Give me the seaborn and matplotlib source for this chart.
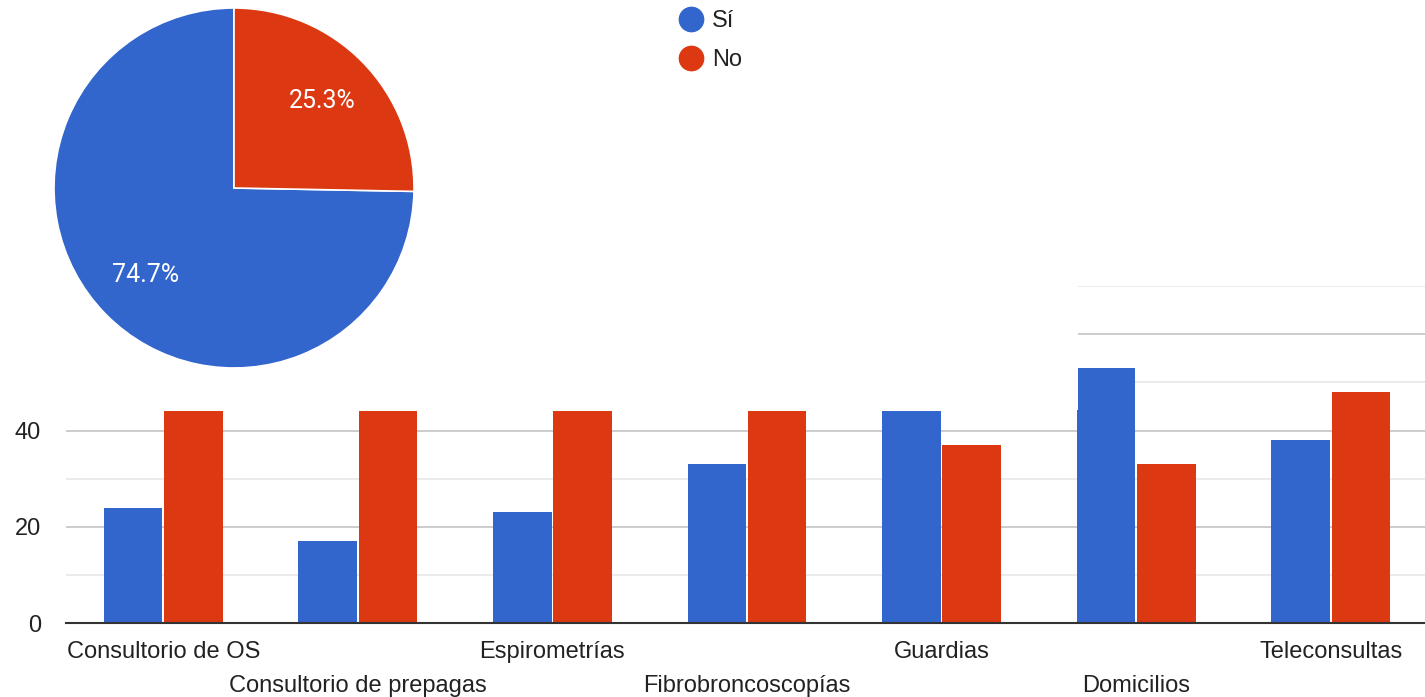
import matplotlib
matplotlib.use("Agg")
import matplotlib.pyplot as plt
import seaborn as sns
import pandas as pd
from matplotlib.lines import Line2D
from matplotlib.ticker import MultipleLocator, FixedLocator

# ---- data ----
categories = ["Consultorio de OS", "Consultorio de prepagas", "Espirometrías",
              "Fibrobroncoscopías", "Guardias", "Domicilios", "Teleconsultas"]
si_values = [24, 17, 23, 33, 44, 53, 38]
no_values = [44, 44, 44, 44, 37, 33, 48]
series_names = ["Sí", "No"]
pie_values = [74.7, 25.3]
y_ticks = [0, 20, 40, 60]
colors = ["#3366cc", "#dc3912"]

sns.set_style("white")
plt.rcParams["font.family"] = ["Liberation Sans", "DejaVu Sans"]

W, H = 1425, 697
fig = plt.figure(figsize=(W / 100, H / 100), dpi=100)


def px_rect(x0, y0, x1, y1):
    return [x0 / W, 1 - y1 / H, (x1 - x0) / W, (y1 - y0) / H]


# ---- bar chart ----
ax = fig.add_axes(px_rect(66, 286, 1428, 623.3))
df = pd.DataFrame({
    "Categoría": categories * 2,
    "Valor": si_values + no_values,
    "Respuesta": [series_names[0]] * len(categories) + [series_names[1]] * len(categories),
})
sns.barplot(data=df, x="Categoría", y="Valor", hue="Respuesta", hue_order=series_names,
            palette=colors, saturation=1, width=0.62, gap=0.03, linewidth=0,
            legend=False, ax=ax)
ax.set_xlim(-0.5, 6.5)
ax.set_ylim(0, 70)
ax.yaxis.set_major_locator(FixedLocator(y_ticks))
ax.yaxis.set_minor_locator(MultipleLocator(10))
ax.set_yticklabels([str(t) for t in y_ticks])
ax.grid(False)
ax.yaxis.grid(True, which="major", color="#cccccc", lw=1.4)
ax.yaxis.grid(True, which="minor", color="#ebebeb", lw=1.4)
ax.set_axisbelow(True)
for s in ["left", "right", "top"]:
    ax.spines[s].set_visible(False)
ax.spines["bottom"].set_color("#333333")
ax.spines["bottom"].set_linewidth(1.5)
ax.spines["bottom"].set_zorder(5)
ax.set_xlabel("")
ax.set_ylabel("")
ax.tick_params(axis="both", which="both", length=0, labelsize=17, labelcolor="#222222")
ax.tick_params(axis="y", pad=18)
for i, t in enumerate(ax.xaxis.get_major_ticks()):
    t.set_pad(13 if i % 2 == 0 else 37)

# ---- pie overlay ----
ax2 = fig.add_axes(px_rect(0, 0, 1078, 410))
ax2.set_zorder(2)
ax2.set_facecolor("white")
ax2.pie(pie_values, colors=colors, startangle=90, counterclock=True,
        center=(234, 222), radius=180, frame=True,
        autopct="%.1f%%", pctdistance=0.69,
        wedgeprops=dict(edgecolor="white", linewidth=1.2),
        textprops=dict(color="white", fontsize=18, family=["Roboto", "DejaVu Sans"]))
ax2.set_xlim(0, 1078)
ax2.set_ylim(0, 410)
ax2.set_aspect("auto")
ax2.set_xticks([])
ax2.set_yticks([])
for s in ax2.spines.values():
    s.set_visible(False)

# ---- legend ----
handles = [Line2D([], [], ls="", marker="o", ms=17.5, color=c) for c in colors]
fig.legend(handles, series_names, loc="upper left",
           bbox_to_anchor=(679 / W, 1 - 10 / H), frameon=False, fontsize=17,
           handlelength=1.0, handletextpad=0.4, borderpad=0, borderaxespad=0,
           labelspacing=0.72, labelcolor="#222222")

fig.savefig("out.png", dpi=100, facecolor="white")
